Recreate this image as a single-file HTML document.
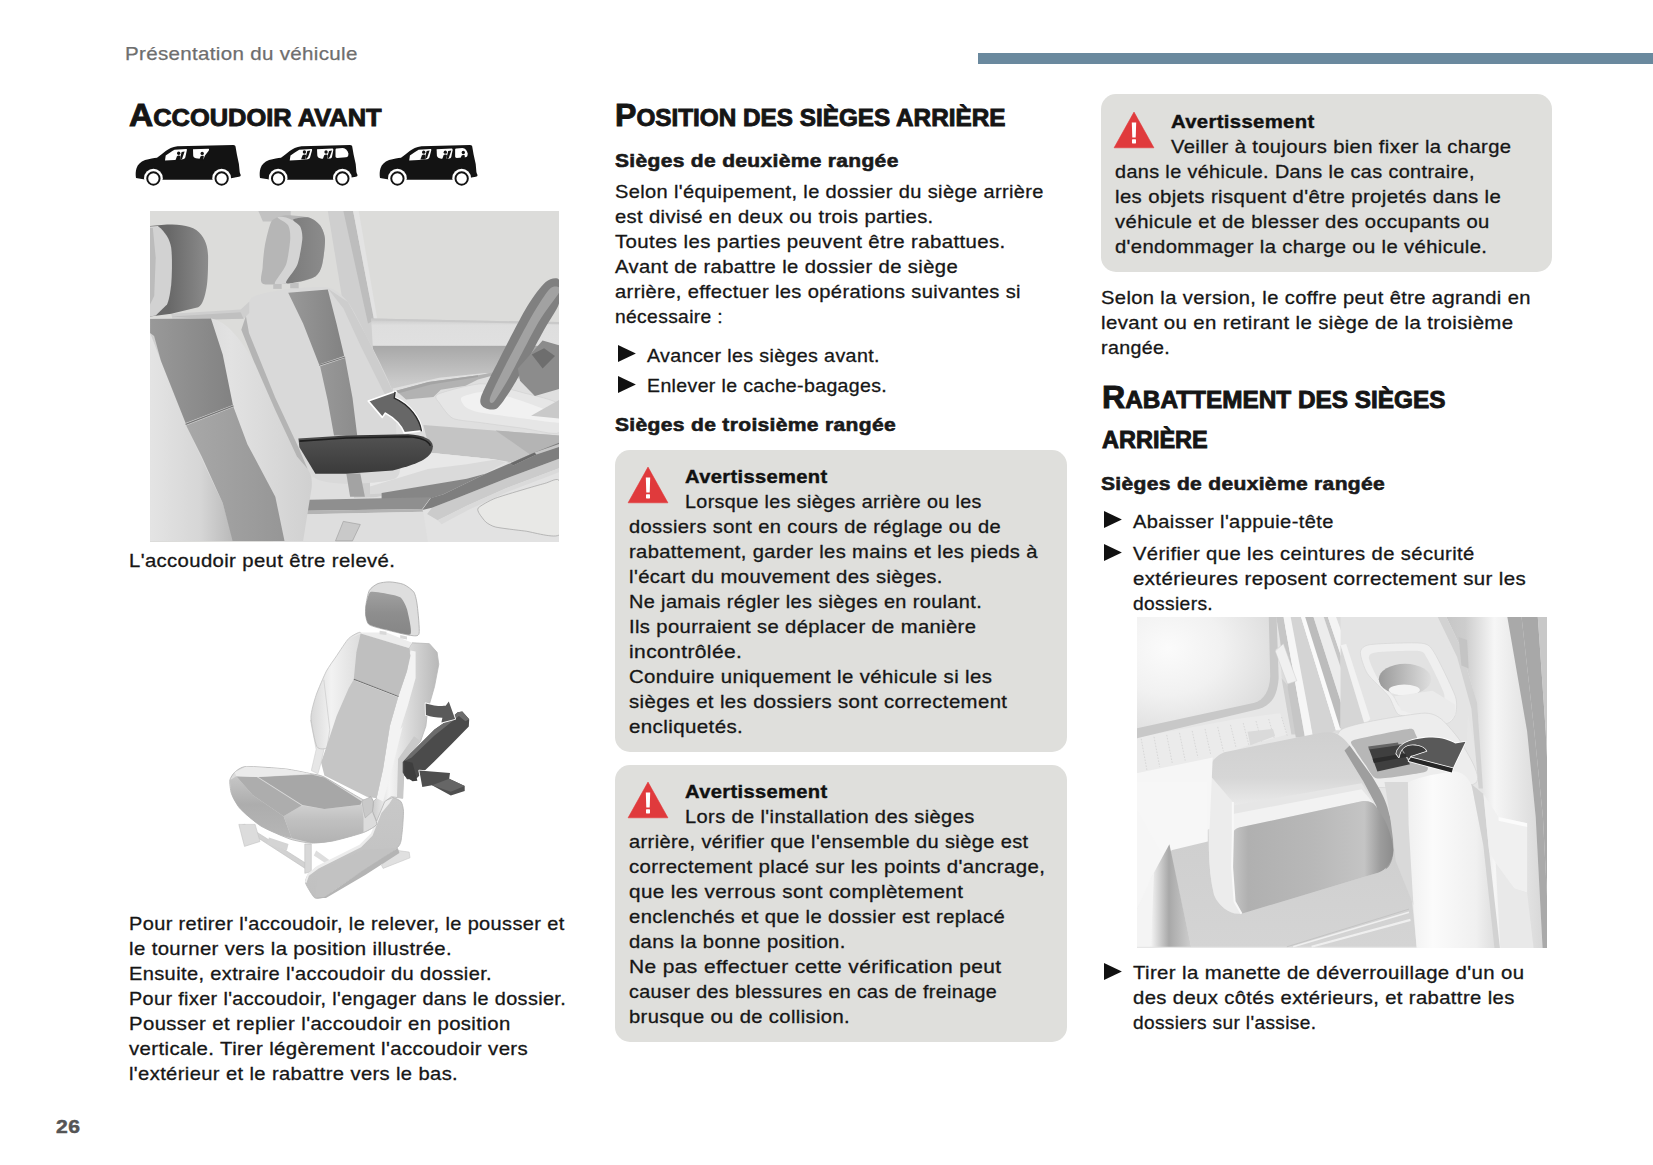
<!DOCTYPE html>
<html lang="fr"><head><meta charset="utf-8"><title>Présentation du véhicule</title>
<style>
html,body{margin:0;padding:0;background:#fff;}
body{width:1653px;height:1165px;position:relative;overflow:hidden;font-family:"Liberation Sans",sans-serif;color:#161616;}
.t{position:absolute;white-space:nowrap;line-height:1;margin:0;transform-origin:0 0;}
.b{font-size:18.5px;letter-spacing:0.35px;-webkit-text-stroke:0.3px #161616;}
.h2{font-size:19px;font-weight:bold;color:#1a1a1a;letter-spacing:0.3px;-webkit-text-stroke:0.6px #1a1a1a;}
.av{font-size:18.5px;font-weight:bold;color:#111;letter-spacing:0.3px;-webkit-text-stroke:0.4px #111;}
.hd{font-size:19px;color:#6e6e6e;letter-spacing:0.3px;-webkit-text-stroke:0.25px #6e6e6e;}
.pn{font-size:19px;font-weight:bold;color:#555;letter-spacing:0.5px;-webkit-text-stroke:0.5px #555;}
.h1{font-weight:bold;font-size:23.5px;color:#151515;-webkit-text-stroke:0.9px #151515;}
.h1 b{font-size:31px;}
.box{position:absolute;background:#dfdfdc;border-radius:15px;}
.bar{position:absolute;left:978px;top:53.3px;width:675px;height:10.9px;background:#6a899e;}
svg{position:absolute;overflow:visible;}
</style></head>
<body>
<div class="bar"></div>
<div class="box" style="left:615.1px;top:450.2px;width:451.5px;height:301.4px"></div>
<div class="box" style="left:615.1px;top:765.1px;width:451.5px;height:277.3px"></div>
<div class="box" style="left:1100.8px;top:94.1px;width:451.6px;height:177.5px"></div>
<svg style="left:628.2px;top:467.6px" width="40" height="35" viewBox="0 0 40 35"><path d="M20 -0.9 L39.9 34.8 L0.1 34.8 Z" fill="#e03a3c" stroke="#e03a3c" stroke-width="0.6" stroke-linejoin="round"/><path d="M17.8 9.6 L22.2 9.6 L21.7 24.4 L18.3 24.4 Z" fill="#fff"/><rect x="18" y="26.2" width="4" height="4.2" rx="0.6" fill="#fff"/></svg>
<svg style="left:628.2px;top:783.2px" width="40" height="35" viewBox="0 0 40 35"><path d="M20 -0.9 L39.9 34.8 L0.1 34.8 Z" fill="#e03a3c" stroke="#e03a3c" stroke-width="0.6" stroke-linejoin="round"/><path d="M17.8 9.6 L22.2 9.6 L21.7 24.4 L18.3 24.4 Z" fill="#fff"/><rect x="18" y="26.2" width="4" height="4.2" rx="0.6" fill="#fff"/></svg>
<svg style="left:1114px;top:112.5px" width="40" height="35" viewBox="0 0 40 35"><path d="M20 -0.9 L39.9 34.8 L0.1 34.8 Z" fill="#e03a3c" stroke="#e03a3c" stroke-width="0.6" stroke-linejoin="round"/><path d="M17.8 9.6 L22.2 9.6 L21.7 24.4 L18.3 24.4 Z" fill="#fff"/><rect x="18" y="26.2" width="4" height="4.2" rx="0.6" fill="#fff"/></svg>
<svg style="left:617.6px;top:345.40px" width="19" height="17" viewBox="0 0 19 17"><path d="M0 0 L17.9 8.5 L0 17 Z" fill="#111"/></svg>
<svg style="left:617.6px;top:376.30px" width="19" height="17" viewBox="0 0 19 17"><path d="M0 0 L17.9 8.5 L0 17 Z" fill="#111"/></svg>
<svg style="left:1104.0px;top:511.40px" width="19" height="17" viewBox="0 0 19 17"><path d="M0 0 L17.9 8.5 L0 17 Z" fill="#111"/></svg>
<svg style="left:1104.0px;top:543.80px" width="19" height="17" viewBox="0 0 19 17"><path d="M0 0 L17.9 8.5 L0 17 Z" fill="#111"/></svg>
<svg style="left:1104.0px;top:963.20px" width="19" height="17" viewBox="0 0 19 17"><path d="M0 0 L17.9 8.5 L0 17 Z" fill="#111"/></svg>
<svg style="left:128px;top:140px" width="370" height="52" viewBox="128 140 370 52">
<path d="M136.0,177.9 C135.5,174.8 135.5,171.2 136.6,167.9 C137.8,164.7 140.3,161.8 145.1,160.0 C149.8,158.7 154.1,158.3 157.0,157.8 C159.9,155.6 162.8,153.1 165.7,150.9 C168.7,148.9 172.3,146.7 177.4,146.2 L233.3,145.1 C234.7,145.2 235.4,145.8 235.6,146.9 L236.9,154.5 L238.9,164.0 L239.7,171.9 C239.9,173.8 240.9,174.1 240.7,175.6 C240.5,176.7 239.4,176.9 231.1,178.3 L212.8,179.8 L162.3,179.8 L144.8,179.6 Z" fill="#131313"/>
<circle cx="153.41" cy="178.19" r="9.36" fill="#fff"/>
<circle cx="153.41" cy="178.48" r="6.17" fill="#fff" stroke="#131313" stroke-width="1.96"/>
<circle cx="221.65" cy="178.19" r="9.36" fill="#fff"/>
<circle cx="221.65" cy="178.48" r="6.17" fill="#fff" stroke="#131313" stroke-width="1.96"/>
<path d="M165.0,160.5 L165.7,155.6 C168.7,153.4 171.6,151.3 174.5,149.8 L186.1,149.1 C186.9,149.1 187.1,149.8 186.8,150.5 L185.4,157.1 C185.0,158.5 184.3,159.0 182.8,159.2 L174.5,160.0 Z" fill="#fff"/>
<path d="M193.0,149.3 L208.6,148.7 C209.2,148.9 209.2,149.8 208.7,150.7 L205.0,155.6 L203.5,159.3 L195.9,158.3 C194.1,157.8 193.3,157.1 193.2,155.6 Z" fill="#fff"/>
<circle cx="178.67" cy="153.21" r="1.67" fill="#131313"/>
<path d="M175.4,160.5 L176.9,156.5 C177.6,155.4 179.8,155.4 180.3,156.1 L179.8,160.5 Z" fill="#131313"/>
<path d="M181.6,152.1 L184.6,151.6 L182.3,158.3 L180.1,160.5 L180.3,157.6 Z" fill="#131313"/>
<circle cx="202.19" cy="153.43" r="1.67" fill="#131313"/>
<path d="M198.9,160.7 L200.4,156.7 C201.1,155.6 203.3,155.6 203.8,156.3 L203.3,160.7 Z" fill="#131313"/>
<path d="M260.0,177.9 C259.5,174.8 259.5,171.2 260.6,167.9 C261.8,164.7 264.3,161.8 269.1,160.0 C273.8,158.7 278.1,158.3 281.0,157.8 C283.9,155.6 286.8,153.1 289.7,150.9 C292.7,148.9 296.3,146.7 301.4,146.2 L350.0,145.1 C351.5,145.2 352.2,145.8 352.3,146.9 L353.6,154.5 L355.7,164.0 L356.4,171.9 C356.7,173.8 357.6,174.1 357.5,175.6 C357.3,176.7 356.2,176.9 347.8,178.3 L333.5,179.8 L287.0,179.8 L269.6,179.6 Z" fill="#131313"/>
<circle cx="278.13" cy="178.19" r="9.36" fill="#fff"/>
<circle cx="278.13" cy="178.48" r="6.17" fill="#fff" stroke="#131313" stroke-width="1.96"/>
<circle cx="342.38" cy="178.19" r="9.36" fill="#fff"/>
<circle cx="342.38" cy="178.48" r="6.17" fill="#fff" stroke="#131313" stroke-width="1.96"/>
<path d="M289.7,160.5 L290.5,155.6 C293.4,153.4 296.3,151.3 299.2,149.8 L311.2,149.1 C312.1,149.1 312.3,149.8 312.0,150.5 L310.2,157.1 C309.9,158.5 309.1,159.0 307.7,159.2 L299.2,160.0 Z" fill="#fff"/>
<path d="M317.0,149.3 L332.4,148.4 C333.3,148.6 333.5,149.4 333.3,150.3 L332.0,156.8 C331.7,157.9 331.1,158.3 330.3,158.4 L321.7,158.7 C319.2,158.5 317.5,157.4 317.3,155.6 Z" fill="#fff"/>
<path d="M335.5,149.8 C335.5,148.9 336.1,148.6 336.9,148.5 L342.7,148.0 C345.6,148.3 347.8,150.9 348.4,153.4 C348.6,155.6 347.7,157.1 346.0,157.3 L337.1,157.9 C336.1,157.9 335.6,157.4 335.5,156.6 Z" fill="#fff"/>
<circle cx="304.41" cy="151.98" r="1.67" fill="#131313"/>
<path d="M301.1,159.2 L302.6,155.2 C303.3,154.2 305.5,154.2 306.0,154.9 L305.5,159.2 Z" fill="#131313"/>
<path d="M307.3,150.9 L310.4,150.4 L308.0,157.1 L305.9,159.2 L306.0,156.3 Z" fill="#131313"/>
<circle cx="326.05" cy="151.98" r="1.67" fill="#131313"/>
<path d="M322.8,159.2 L324.2,155.2 C325.0,154.2 327.1,154.2 327.6,154.9 L327.1,159.2 Z" fill="#131313"/>
<path d="M329.0,150.9 L332.0,150.4 L329.7,157.1 L327.5,159.2 L327.6,156.3 Z" fill="#131313"/>
<path d="M380.0,177.9 C379.5,174.8 379.5,171.2 380.6,167.9 C381.8,164.7 384.3,161.8 389.1,160.0 C393.8,158.7 398.1,158.3 401.0,157.8 C403.9,155.6 406.8,153.1 409.7,150.9 C412.7,148.9 416.3,146.7 421.4,146.2 L470.0,145.1 C471.5,145.2 472.2,145.8 472.3,146.9 L473.6,154.5 L475.7,164.0 L476.4,171.9 C476.7,173.8 477.6,174.1 477.5,175.6 C477.3,176.7 476.2,176.9 467.8,178.3 L452.8,179.8 L406.3,179.8 L388.8,179.6 Z" fill="#131313"/>
<circle cx="397.41" cy="178.19" r="9.36" fill="#fff"/>
<circle cx="397.41" cy="178.48" r="6.17" fill="#fff" stroke="#131313" stroke-width="1.96"/>
<circle cx="461.66" cy="178.19" r="9.36" fill="#fff"/>
<circle cx="461.66" cy="178.48" r="6.17" fill="#fff" stroke="#131313" stroke-width="1.96"/>
<path d="M409.2,160.5 L409.9,155.6 C412.8,153.4 415.7,151.3 418.6,149.8 L430.4,149.1 C431.4,149.1 431.5,149.8 431.2,150.5 L429.5,157.1 C429.1,158.5 428.4,159.0 427.0,159.2 L418.6,160.0 Z" fill="#fff"/>
<path d="M436.6,149.3 L451.7,148.4 C452.6,148.6 452.7,149.4 452.6,150.3 L451.3,156.8 C451.0,157.9 450.4,158.3 449.5,158.4 L441.3,158.7 C438.8,158.5 437.1,157.4 436.9,155.6 Z" fill="#fff"/>
<path d="M455.1,149.8 C455.1,148.9 455.7,148.6 456.6,148.5 L462.4,148.0 C465.3,148.3 467.1,150.9 467.7,153.4 C467.8,155.6 467.0,157.1 465.3,157.3 L456.7,157.9 C455.7,157.9 455.2,157.4 455.1,156.6 Z" fill="#fff"/>
<circle cx="423.69" cy="152.20" r="1.67" fill="#131313"/>
<path d="M420.4,159.5 L421.9,155.5 C422.6,154.4 424.8,154.4 425.3,155.1 L424.8,159.5 Z" fill="#131313"/>
<path d="M426.6,151.1 L429.6,150.6 L427.3,157.3 L425.1,159.5 L425.3,156.6 Z" fill="#131313"/>
<circle cx="445.32" cy="152.20" r="1.67" fill="#131313"/>
<path d="M442.1,159.5 L443.5,155.5 C444.2,154.4 446.4,154.4 446.9,155.1 L446.4,159.5 Z" fill="#131313"/>
<path d="M448.2,151.1 L451.3,150.6 L449.0,157.3 L446.8,159.5 L446.9,156.6 Z" fill="#131313"/>
<circle cx="463.32" cy="152.49" r="1.67" fill="#131313"/>
<path d="M460.1,159.7 L461.5,155.8 C462.2,154.7 464.4,154.7 464.9,155.4 L464.4,159.7 Z" fill="#131313"/>
</svg>
<svg style="left:150px;top:211px;overflow:hidden" width="409" height="330.7" viewBox="150 211 409 330.7">
<defs>
<linearGradient id="g1hd" x1="0" y1="0" x2="1" y2="0"><stop offset="0" stop-color="#7a7a7a"/><stop offset="1" stop-color="#8c8c8c"/></linearGradient>
<linearGradient id="g1hdl" x1="0" y1="0" x2="1" y2="0"><stop offset="0.35" stop-color="#686868"/><stop offset="1" stop-color="#8c8c8c"/></linearGradient>
<linearGradient id="g1pan2" x1="0" y1="0" x2="1" y2="0"><stop offset="0" stop-color="#a8a8a8"/><stop offset="1" stop-color="#969696"/></linearGradient>
<linearGradient id="g1pan3" x1="0" y1="0" x2="1" y2="0"><stop offset="0" stop-color="#989898"/><stop offset="1" stop-color="#8c8c8c"/></linearGradient>
<linearGradient id="g1door" x1="0" y1="0" x2="0" y2="1"><stop offset="0" stop-color="#c8c8c8"/><stop offset="0.07" stop-color="#dedede"/><stop offset="0.275" stop-color="#e0e0e0"/><stop offset="0.285" stop-color="#a8a8a8"/><stop offset="0.65" stop-color="#cacaca"/><stop offset="1" stop-color="#d6d6d6"/></linearGradient>
<linearGradient id="g1arm" x1="0" y1="0" x2="0" y2="1"><stop offset="0" stop-color="#2e2e2e"/><stop offset="0.12" stop-color="#505050"/><stop offset="0.6" stop-color="#444"/><stop offset="1" stop-color="#3a3a3a"/></linearGradient>
<linearGradient id="g1pan" x1="0" y1="0" x2="1" y2="0"><stop offset="0" stop-color="#999999"/><stop offset="1" stop-color="#828282"/></linearGradient>
<linearGradient id="g1bol" x1="0" y1="0" x2="1" y2="0"><stop offset="0" stop-color="#cfcfcf"/><stop offset="0.5" stop-color="#e2e2e2"/><stop offset="1" stop-color="#d0d0d0"/></linearGradient>
<linearGradient id="g1lb" x1="0" y1="0" x2="1" y2="0"><stop offset="0" stop-color="#e4e4e4"/><stop offset="0.6" stop-color="#d6d6d6"/><stop offset="1" stop-color="#b9b9b9"/></linearGradient>
</defs>
<rect x="150" y="211" width="409" height="331" fill="#dcdcda"/>
<polygon points="327.8,210.8 347.9,210.8 377.2,323.6 371.1,397.8 352.5,397.8 346.3,323.6" fill="#cfcfcf" />
<polygon points="343.3,210.8 353.1,210.8 374.2,320.5 368.0,323.6" fill="#bdbdbd" />
<polygon points="353.1,210.8 358.7,210.8 377.2,319.0 374.2,320.5" fill="#e3e3e3" />
<polygon points="258.3,210.8 290.7,210.8 290.7,221.6 262.9,221.6" fill="#c2c2c2" />
<polygon points="371.1,318.4 559.0,322.1 559.0,416.3 377.2,416.3" fill="url(#g1door)"/>
<polygon points="371.1,318.4 559.0,322.1 559.0,324.2 371.7,320.5" fill="#c9c9c9" />
<polygon points="392.7,388.5 439.1,377.7 485.4,373.1 559.0,385.4 559.0,540.9 303.1,540.9 303.1,478.2 392.7,472.0" fill="#dfdfdf" />
<path d="M437.6,394.4 C442.4,392.0 471.4,384.0 481.5,383.8 C491.6,383.6 515.0,390.6 524.0,393.0 C533.0,395.4 554.9,399.7 559.0,404.3 C563.1,408.9 563.1,429.9 559.0,432.7 C554.9,435.5 533.0,429.6 524.0,428.4 C515.0,427.2 489.8,423.9 481.5,422.7 C473.2,421.5 458.0,420.6 453.2,418.5 C448.4,416.4 442.2,407.1 440.4,404.3 C438.6,401.5 432.8,396.8 437.6,394.4Z" fill="#e6e6e6" stroke="#cdcdcd" stroke-width="0.5"/>
<path d="M461.7,397.2 C464.3,395.4 480.5,390.8 488.6,391.6 C496.7,392.4 522.9,401.5 531.1,404.3 C539.3,407.1 555.7,413.6 559.0,415.7 C562.3,417.8 563.1,422.4 559.0,422.7 C554.9,423.0 533.0,419.7 524.0,418.5 C515.0,417.3 488.3,414.1 481.5,412.8 C474.7,411.5 468.2,409.0 465.9,407.2 C463.6,405.4 459.1,399.0 461.7,397.2Z" fill="#f1f1f1" />
<polygon points="531.1,415.7 559.0,400.1 559.0,418.5" fill="#c9c9c9" />
<polygon points="423.4,424.9 559.0,435.5 559.0,446.8 509.8,462.4 430.5,453.2" fill="#c4c4c4" />
<polygon points="495.7,430.5 559.0,435.5 559.0,446.8 531.1,455.3" fill="#b4b4b4" />
<polygon points="396.5,478.0 433.3,453.2 495.7,459.6 508.4,461.7 487.2,473.7 439.0,484.4 388.0,494.3" fill="#e3e3e3" />
<polygon points="433.3,453.2 495.7,459.6 433.3,464.5 402.2,475.2" fill="#eeeeee" />
<polygon points="354.0,475.2 386.6,468.1 395.1,478.0 388.0,494.3 376.7,497.1 354.0,498.1" fill="#cfcfcf" />
<polygon points="396.2,390.8 428.4,382.1 478.0,375.3 494.1,372.2 494.8,374.9 478.0,379.6 465.6,385.8 440.8,389.8 433.4,397.0 406.1,399.5" fill="#b2b2b2" />
<polygon points="396.2,390.8 428.4,382.1 478.0,375.3 478.0,377.1 430.9,384.6 398.6,393.3" fill="#a4a4a4" />
<polygon points="428.0,452.6 495.8,459.4 505.5,462.5 486.1,473.1 466.8,478.9 381.6,493.4 370.0,494.2 370.0,469.0 413.5,459.4" fill="#dadada" />
<polygon points="428.0,452.6 495.8,459.4 466.8,464.2 428.0,469.0 370.0,486.5 370.0,469.0 413.5,459.4" fill="#e8e8e8" />
<polygon points="381.6,493.0 466.8,478.7 486.1,473.4 443.5,494.2 430.9,498.3 381.6,499.6" fill="#868686" />
<polygon points="422.2,509.7 431.9,507.8 457.1,498.1 505.5,478.7 559.7,457.9 559.7,542.6 370.0,542.6 370.0,513.6 423.2,512.1" fill="#e2e2e2" />
<polygon points="431.9,507.8 457.1,498.1 505.5,478.7 559.7,458.4 559.7,468.1 505.5,488.4 466.8,505.8 437.7,520.3 427.1,514.1" fill="#cbcbcb" />
<polygon points="437.7,520.3 466.8,505.8 505.5,488.4 559.7,468.1 559.7,471.9 505.5,492.8 468.7,509.7 441.6,524.2" fill="#dadada" />
<path d="M479.3,513.6 C478.5,512.1 476.8,509.4 478.4,507.8 C480.0,506.2 489.2,500.5 495.8,498.1 C502.4,495.7 537.8,485.2 544.2,483.6 C550.6,482.0 558.2,476.5 559.7,481.6 C561.2,486.7 563.2,529.5 559.7,534.4 C556.2,539.3 531.2,531.7 524.8,531.0 C518.4,530.3 499.7,528.0 495.8,527.1 C491.9,526.2 487.8,523.6 486.1,522.3 C484.5,520.9 480.1,515.1 479.3,513.6Z" fill="#e8e8e6" stroke="#a2a2a2" stroke-width="0.7"/>
<polygon points="559.7,442.4 559.7,458.4 505.5,478.7 457.1,498.1 431.9,507.8 422.2,509.9 430.9,498.1 443.5,494.2 486.1,473.4 510.3,463.2 534.5,452.6" fill="#7e7e7e" />
<polygon points="534.5,452.6 559.7,443.7 559.7,446.8 536.5,454.5 513.2,465.4 510.3,463.2" fill="#c6c6c6" />
<polygon points="510.3,463.2 534.5,452.6 536.5,454.5 513.2,465.4" fill="#6a6a6a" />
<polygon points="273.2,500.5 430.9,497.3 422.2,508.9 273.2,511.2" fill="#8f8f8f" />
<polygon points="273.2,511.2 422.2,508.9 423.2,511.8 273.2,515.0" fill="#b4b4b4" />
<polygon points="273.2,515.0 423.2,511.8 428.0,542.6 273.2,542.6" fill="#dedede" />
<polygon points="335.5,540.9 343.3,521.4 360.3,524.5 352.5,540.9" fill="#c9c9c9" stroke="#9a9a9a" stroke-width="0.6"/>
<path d="M559.0,279.7 C557.2,276.8 550.0,278.3 545.7,281.9 C541.4,285.5 533.3,296.3 527.1,306.6 C520.9,316.9 505.5,347.0 499.3,359.2 C493.1,371.4 482.7,391.3 480.8,397.8 C478.9,404.3 482.5,406.4 484.8,407.7 C487.1,409.0 493.6,411.3 497.8,407.7 C502.0,404.1 510.1,391.2 516.3,380.8 C522.5,370.4 538.4,340.1 544.1,329.8 C549.8,319.5 557.0,310.2 559.0,303.5 C561.0,296.8 560.8,282.6 559.0,279.7Z" fill="#808080" />
<path d="M559.0,287.2 C557.8,286.7 553.3,285.2 549.7,289.0 C546.1,292.8 537.7,305.7 531.8,315.9 C525.9,326.1 511.1,354.4 505.5,365.3 C499.9,376.2 491.6,393.0 490.1,397.8 C488.6,402.6 491.3,404.6 494.1,401.5 C496.9,398.4 504.9,385.2 510.8,374.6 C516.7,364.0 532.2,333.0 538.6,322.1 C545.0,311.2 556.3,297.4 559.0,292.7 C561.7,288.0 560.2,287.7 559.0,287.2Z" fill="#a2a2a2" />
<polygon points="517.9,368.4 542.6,340.6 559.0,345.3 559.0,389.1 534.9,395.9 520.0,380.8" fill="#8c8c8c" />
<polygon points="531.8,354.5 544.1,348.3 555.0,356.1 542.6,368.4" fill="#6e6e6e" />
<path d="M245.9,315.9 C246.3,311.8 247.6,300.5 252.1,297.4 C256.6,294.3 275.7,290.8 284.5,289.6 C293.3,288.4 320.4,286.1 327.8,287.5 C335.2,288.9 343.2,296.0 347.9,302.0 C352.6,308.0 362.8,328.6 368.0,339.1 C373.2,349.6 389.4,380.4 392.7,391.6 C396.0,402.8 396.0,424.8 396.4,434.9 C396.8,445.0 405.2,473.1 395.8,478.2 C386.4,483.3 329.5,487.6 315.4,478.2 C301.3,468.8 283.0,414.8 275.3,397.8 C267.6,380.8 252.4,342.5 249.0,332.9 C245.6,323.3 245.5,320.0 245.9,315.9Z" fill="#d9d9d9" />
<polygon points="288.2,292.7 327.8,289.6 336.5,323.6 344.2,356.1 319.1,364.4 303.1,323.6" fill="url(#g1pan)"/>
<polygon points="320.1,366.3 345.1,357.9 352.5,397.8 357.2,435.5 334.0,435.5 327.8,400.9" fill="url(#g1pan3)"/>
<polygon points="346.3,473.5 360.3,473.5 364.9,496.7 350.1,496.7" fill="#a3a3a3" />
<polygon points="327.8,288.4 347.9,302.0 368.0,339.1 392.7,391.6 386.5,397.8 360.3,345.3 343.3,308.2" fill="#cdcdcd" />
<path d="M273.2,219.5 C275.5,217.8 281.3,215.5 286.0,215.2 C290.7,214.9 304.2,216.1 308.7,217.4 C313.2,218.7 317.8,222.3 320.0,225.2 C322.2,228.1 324.7,234.0 325.0,239.3 C325.3,244.6 323.3,259.9 322.1,264.8 C320.9,269.7 318.8,273.9 315.7,276.2 C312.6,278.5 305.7,280.8 298.7,281.8 C291.7,282.8 268.1,285.9 263.3,284.0 C258.5,282.1 262.4,272.7 262.6,267.7 C262.8,262.7 263.8,251.7 264.7,246.4 C265.6,241.1 267.9,231.6 269.0,228.0 C270.1,224.4 270.9,221.2 273.2,219.5Z" fill="#b6b6b6" />
<path d="M286.0,217.4 C289.1,218.4 298.6,222.3 300.9,225.2 C303.2,228.1 303.7,234.0 303.3,239.3 C302.9,244.6 300.0,259.1 298.0,264.8 C296.0,270.5 291.2,279.3 288.1,281.8 C285.0,284.3 275.0,285.8 274.7,283.5 C274.4,281.2 283.9,270.7 286.0,264.8 C288.1,258.9 289.9,244.6 290.2,239.3 C290.5,234.0 289.8,228.1 288.1,225.2 C286.4,222.3 277.8,218.4 277.5,217.4 C277.2,216.4 282.9,216.4 286.0,217.4Z" fill="#d4d4d4" />
<path d="M293.1,219.5 C294.2,218.3 305.1,216.6 308.7,217.4 C312.3,218.2 317.8,222.3 320.0,225.2 C322.2,228.1 324.7,234.0 325.0,239.3 C325.3,244.6 323.3,259.9 322.1,264.8 C320.9,269.7 318.8,273.9 315.7,276.2 C312.6,278.5 302.7,281.0 298.7,281.8 C294.7,282.6 286.2,284.8 286.0,282.5 C285.8,280.2 295.1,270.6 297.3,264.8 C299.5,259.0 301.9,244.4 302.3,239.3 C302.7,234.2 301.4,229.2 300.2,226.6 C299.0,224.0 292.0,220.7 293.1,219.5Z" fill="url(#g1hd)" />
<polygon points="273.2,284.0 281.7,284.0 281.7,288.9 273.2,288.9" fill="#c0c0c0" />
<polygon points="290.2,283.2 298.7,282.5 298.7,288.2 290.2,288.2" fill="#c0c0c0" />
<polygon points="171.2,313.7 240.7,309.5 249.2,301.7 249.2,313.0 243.5,318.7 209.5,319.4 172.7,320.1" fill="#cecece" />
<polygon points="171.2,316.5 240.7,312.3 243.5,318.7 209.5,319.4" fill="#c0c0c0" />
<path d="M147.2,226.3 L167.0,224.5 C181.2,224.5 192.5,225.9 198.9,232.2 C206.0,239.3 208.1,247.8 208.1,257.7 C208.1,274.7 207.4,284.7 206.0,290.3 C203.8,301.7 201.0,305.9 198.2,307.3 L171.2,313.7 L147.2,317.0 Z" fill="url(#g1hdl)"/>
<path d="M147.2,226.6 L157.8,226.0 C165.6,232.2 169.8,239.3 171.2,247.8 C172.4,257.7 172.0,274.7 171.2,284.7 C169.8,296.0 168.4,301.7 167.0,304.5 L155.7,315.5 L147.2,317.0 Z" fill="#d2d2d2"/>
<polygon points="147.2,228.0 152.8,228.0 155.7,257.7 154.2,296.0 147.2,310.2" fill="#bcbcbc" />
<path d="M211.0,318.4 C222.7,320.5 235.1,329.8 253.6,360.7 L275.3,410.2 L296.9,456.5 C307.7,468.9 313.0,472.0 311.7,487.4 L303.1,540.9 L232.0,540.9 L185.6,424.1 L150.1,336.0 L150.1,318.4 Z" fill="url(#g1bol)"/>
<polygon points="150.1,332.9 160.9,360.7 185.6,425.6 222.7,502.9 233.5,540.9 150.1,540.9" fill="url(#g1lb)"/>
<polygon points="150.1,319.0 211.0,318.4 222.7,354.5 232.9,404.9 185.6,423.1 160.9,360.7 154.1,336.0 150.1,332.9" fill="url(#g1pan)"/>
<path d="M186.2,425.6 L233.5,407.1 L247.4,444.2 L275.3,496.7 L284.5,540.9 L232.6,540.9 L222.7,502.9 L201.7,456.5 Z" fill="url(#g1pan2)"/>
<path d="M185.6,424.4 L233.5,405.8" stroke="#777" stroke-width="1.3" fill="none"/>
<path d="M319.1,365.3 L345.1,357.0" stroke="#777" stroke-width="1.2" fill="none"/>
<polygon points="253.6,360.7 275.3,410.2 296.9,456.5 307.7,468.9 298.4,447.2 275.3,397.8 249.0,332.9 245.9,315.9 241.3,329.8" fill="#b4b4b4" />
<path d="M298.4,438.6 L346.3,435.5 L408.2,434.3 C423.6,434.9 432.3,439.5 432.9,446.3 C432.3,456.5 423.6,462.7 392.7,470.4 L346.3,473.8 L315.4,473.8 L306.8,459.6 L299.4,447.2 Z" fill="url(#g1arm)"/>
<path d="M299.4,441.1 L346.3,438.0 L408.2,436.7 C420.5,437.4 428.2,440.4 430.4,445.7" fill="none" stroke="#1e1e1e" stroke-width="1.6"/>
<path d="M404.3,432.9 L422.3,430.7 C420.6,418.5 410.7,404.3 395.1,397.5 L395.9,391.3 L368.2,400.9 L382.3,417.4 L385.4,413.1 C395.1,418.5 401.5,425.6 404.3,432.9 Z" fill="#676767" stroke="#fff" stroke-width="1.6" stroke-linejoin="round"/>
<path d="M422.3,430.7 C420.6,418.5 410.7,404.3 395.1,397.5 L395.9,391.3" fill="none" stroke="#2b2b2b" stroke-width="1.4" transform="translate(-0.8,0.6)"/>
</svg>
<svg style="left:220px;top:575px;overflow:hidden" width="265" height="335" viewBox="220 575 265 335">
<defs>
<linearGradient id="g2hr" x1="0" y1="0" x2="0" y2="1"><stop offset="0" stop-color="#a0a0a0"/><stop offset="0.5" stop-color="#8e8e8e"/><stop offset="1" stop-color="#868686"/></linearGradient>
<linearGradient id="g2side" x1="0" y1="0" x2="1" y2="0"><stop offset="0" stop-color="#cccccc"/><stop offset="0.25" stop-color="#f4f4f4"/><stop offset="0.55" stop-color="#dadada"/><stop offset="1" stop-color="#b8b8b8"/></linearGradient>
<linearGradient id="g2front" x1="0" y1="0" x2="0" y2="1"><stop offset="0" stop-color="#c6c6c6"/><stop offset="0.45" stop-color="#adadad"/><stop offset="1" stop-color="#b6b6b6"/></linearGradient>
<linearGradient id="g2fr2" x1="0" y1="0" x2="0" y2="1"><stop offset="0" stop-color="#d0d0d0"/><stop offset="0.4" stop-color="#c0c0c0"/><stop offset="1" stop-color="#b2b2b2"/></linearGradient>
<linearGradient id="g2base" x1="0" y1="0" x2="0" y2="1"><stop offset="0" stop-color="#c8c8c8"/><stop offset="1" stop-color="#c0c0c0"/></linearGradient>
<linearGradient id="g2bol" x1="0" y1="0" x2="1" y2="0"><stop offset="0" stop-color="#d8d8d8"/><stop offset="0.4" stop-color="#f2f2f2"/><stop offset="1" stop-color="#dcdcdc"/></linearGradient>
</defs>
<polygon points="239.6,826.0 244.5,824.4 308.9,865.2 306.4,869.2" fill="#d2d2d2" stroke="#bdbdbd" stroke-width="0.6"/>
<polygon points="238.8,824.4 255.1,824.4 260.0,841.5 244.5,846.4" fill="#dcdcdc" stroke="#c4c4c4" stroke-width="0.6"/>
<polygon points="268.9,837.4 288.5,844.0 286.9,850.5 267.3,844.0" fill="#d4d4d4" />
<polygon points="304.8,844.0 311.3,844.0 311.3,871.7 304.8,873.3" fill="#d8d8d8" stroke="#c0c0c0" stroke-width="0.6"/>
<polygon points="316.2,850.5 334.2,863.5 330.9,866.8 313.8,855.4" fill="#dedede" />
<polygon points="397.8,850.5 409.2,852.1 410.0,857.8 383.1,868.4 381.5,865.2" fill="#e0e0e0" stroke="#c8c8c8" stroke-width="0.6"/>
<path d="M384.7,801.6 C385.8,800.2 391.3,797.5 392.9,797.5 C394.5,797.5 399.9,800.2 401.0,801.6 C402.1,803.0 403.4,808.0 403.5,811.3 C403.6,814.6 402.5,830.6 401.9,834.2 C401.3,837.8 401.6,843.6 397.8,847.2 C394.0,850.8 369.9,865.9 363.5,870.1 C357.1,874.3 338.1,886.9 334.2,889.6 C330.3,892.3 326.4,896.2 324.4,897.0 C322.4,897.8 316.5,899.2 314.6,897.8 C312.7,896.4 306.2,885.4 305.6,883.1 C305.0,880.8 306.9,876.6 308.1,875.0 C309.3,873.4 312.7,869.7 317.9,866.8 C323.1,863.9 354.9,848.9 360.3,845.6 C365.7,842.3 369.6,837.6 371.7,834.2 C373.8,830.8 380.2,814.6 381.5,811.3 C382.8,808.0 383.6,803.0 384.7,801.6Z" fill="url(#g2base)" stroke="#b4b4b4" stroke-width="0.8"/>
<polygon points="317.9,870.9 363.5,849.7 397.8,848.0 363.5,870.1 324.4,897.0 315.4,897.5" fill="#c2c2c2" />
<polygon points="324.4,897.0 363.5,870.1 397.8,848.0 399.4,852.9 365.2,875.0 326.0,898.1 315.4,898.1" fill="#b4b4b4" />
<path d="M384.7,801.6 L392.9,798.0 L389.6,803.2 L381.5,813.0 L372.5,835.8 L361.1,847.2 L318.7,868.4 L308.9,875.8 L306.4,883.1 L304.8,882.3 L307.3,874.1 L317.0,866.0 L359.5,844.8 L370.9,833.4 L380.7,810.5 Z" fill="#ececec"/>
<polygon points="310.5,720.0 324.4,720.0 327.6,733.0 321.1,762.4 317.9,773.8 311.3,770.6 316.2,749.4" fill="#e6e6e6" stroke="#cfcfcf" stroke-width="0.6"/>
<path d="M336.7,655.7 C338.9,652.4 346.3,640.8 348.7,638.5 C351.1,636.2 359.5,631.1 360.7,632.5 C361.9,633.9 361.2,647.7 360.7,652.3 C360.2,656.9 357.7,672.5 355.5,678.9 C353.3,685.2 341.1,709.0 338.4,715.8 C335.7,722.6 330.2,743.6 328.1,746.7 C326.0,749.8 318.6,749.6 316.9,746.7 C315.2,743.8 311.0,722.6 310.9,717.5 C310.8,712.4 314.6,699.8 316.1,695.2 C317.7,690.6 324.3,675.1 326.4,671.1 C328.5,667.1 334.5,659.0 336.7,655.7Z" fill="url(#g2bol)" stroke="#c0c0c0" stroke-width="0.8"/>
<path d="M323.8,679.7 L329.8,729.5 L327.2,746.7" stroke="#cfcfcf" stroke-width="0.8" fill="none"/>
<polygon points="408.8,648.0 412.2,642.8 429.4,643.7 437.1,652.3 438.8,664.3 434.5,686.6 427.6,710.6 425.9,726.1 420.6,741.2 404.3,760.8 402.7,798.3 391.3,796.7 384.7,801.6 376.6,821.1 372.5,811.3 373.3,801.6 376.6,798.3 383.1,768.9 389.9,726.1 398.5,696.0 407.0,671.1 410.5,655.7" fill="url(#g2side)" stroke="#b8b8b8" stroke-width="0.8"/>
<polygon points="410.5,650.5 415.6,651.4 415.6,678.0 407.9,705.5 400.2,729.5 402.7,726.5 391.3,772.2 383.1,801.6 376.6,798.3 383.1,768.9 389.9,726.1 398.5,696.0 407.0,671.1" fill="#f3f3f3"/>
<polygon points="420.6,741.2 404.3,760.8 402.7,798.3 397.0,797.5 398.1,759.1 414.1,736.3" fill="#c9c9c9" />
<polygon points="348.7,638.5 360.7,632.5 386.4,632.5 412.2,642.8 408.8,648.0 360.7,633.7" fill="#ececec" />
<polygon points="360.7,633.4 408.8,648.0 410.5,655.7 407.0,671.1 398.5,696.0 353.8,678.9 356.4,652.3" fill="#bfbfbf" />
<polygon points="353.5,680.1 398.1,697.2 389.9,726.1 383.1,768.9 376.6,798.3 366.8,796.7 324.4,775.5 321.1,762.4 326.4,746.7 336.7,715.8 348.7,688.3" fill="#c5c5c5"/>
<path d="M353.8,679.2 L398.5,696.5" stroke="#707070" stroke-width="1.1" fill="none"/>
<path d="M365.8,605.9 C366.2,602.9 367.9,593.1 369.3,590.5 C370.7,587.9 375.5,584.6 377.9,583.6 C380.3,582.6 386.9,581.8 389.9,581.9 C392.9,582.0 400.8,583.2 403.6,584.4 C406.4,585.6 412.3,589.7 413.9,592.2 C415.5,594.7 416.7,601.1 417.3,605.9 C417.9,610.7 419.9,630.0 419.1,633.4 C418.3,636.8 414.3,635.8 410.5,635.4 C406.7,635.0 391.2,631.1 386.4,629.9 C381.6,628.7 371.7,626.4 369.3,624.8 C366.9,623.2 366.2,618.4 365.8,616.2 C365.4,614.0 365.4,608.9 365.8,605.9Z" fill="#dedede" stroke="#a8a8a8" stroke-width="0.8"/>
<path d="M365.8,605.9 C366.2,603.5 368.4,593.5 370.1,592.2 C371.8,590.9 380.0,592.5 383.0,593.0 C386.0,593.5 397.8,595.7 400.2,597.3 C402.6,598.9 406.0,605.6 407.0,609.3 C408.0,613.0 412.6,632.2 410.5,634.2 C408.4,636.2 390.5,630.6 386.4,629.6 C382.3,628.6 371.4,625.7 369.3,624.4 C367.2,623.1 366.2,618.1 365.8,616.2 C365.4,614.4 365.4,608.3 365.8,605.9Z" fill="url(#g2hr)" />
<polygon points="379.6,630.8 386.4,631.7 386.4,635.1 379.6,634.2" fill="#d8d8d8" />
<polygon points="400.2,635.1 407.0,636.5 407.0,639.4 400.2,638.2" fill="#d8d8d8" />
<path d="M229.8,780.3 C230.1,778.2 233.1,773.6 234.7,772.2 C236.3,770.8 241.0,766.8 246.1,766.5 C251.2,766.2 278.7,768.2 285.2,768.9 C291.7,769.6 307.4,773.0 311.3,773.8 C315.2,774.6 319.2,774.5 324.4,777.1 C329.6,779.7 358.9,797.9 363.5,799.9 C368.1,801.9 369.1,796.5 370.1,796.7 C371.1,796.9 373.1,800.1 373.3,801.6 C373.5,803.1 372.2,809.0 372.5,811.3 C372.8,813.6 377.5,822.3 376.6,824.4 C375.7,826.5 367.7,830.9 363.5,832.5 C359.3,834.1 339.4,839.6 334.2,840.7 C329.0,841.8 315.7,843.3 311.3,843.1 C306.9,842.9 295.2,840.8 290.1,839.1 C285.1,837.4 265.9,829.1 260.8,826.0 C255.8,822.9 242.5,811.4 239.6,808.1 C236.7,804.8 232.4,796.2 231.4,793.4 C230.4,790.6 229.5,782.4 229.8,780.3Z" fill="#dcdcdc" stroke="#aeaeae" stroke-width="0.8"/>
<path d="M229.8,780.3 L236.3,776.3 L252.6,795.0 L283.6,816.2 L291.8,838.3 C282.0,836.6 268.9,830.9 260.8,826.0 C251.0,819.5 244.5,813.8 239.6,808.1 C234.7,801.6 232.2,796.7 231.4,793.4 Z" fill="url(#g2front)"/>
<path d="M283.6,816.2 L301.6,805.6 L324.4,808.9 L361.9,804.8 L363.5,817.9 L363.5,832.5 C350.5,836.6 342.3,839.1 334.2,840.7 C324.4,842.7 317.9,843.1 311.3,843.1 L291.8,838.3 Z" fill="url(#g2fr2)"/>
<polygon points="236.3,776.3 256.7,777.1 301.6,805.6 283.6,816.2 252.6,795.0" fill="#adadad" />
<polygon points="258.3,777.1 311.3,774.6 324.4,777.4 361.9,801.6 360.3,804.8 324.4,808.9 302.4,805.1" fill="#a7a7a7" />
<polygon points="234.7,772.2 246.1,766.5 285.2,768.9 311.3,773.8 257.5,777.1 236.3,776.3" fill="#ebebeb" />
<polygon points="361.9,800.7 370.9,796.7 373.3,801.6 372.5,811.3 365.2,817.9 363.5,811.3" fill="#c9c9c9" stroke="#a8a8a8" stroke-width="0.5"/>
<path d="M457.7,712.3 L462.3,711.5 L469.2,719.2 L468.8,726.4 L451.7,744.1 L434.5,761.3 L415.6,779.3 L407.0,779.3 L402.7,772.4 L402.7,762.1 L410.5,753.5 L434.5,729.5 L451.7,717.5 Z" fill="#4b4b4b"/>
<path d="M457.7,712.3 L462.3,711.5 L469.2,719.2 L465.4,721.3 L458.9,716.1 L434.5,735.5 L411.3,757.8 L403.9,761.3 L410.5,753.5 L434.5,729.5 L451.7,717.5 Z" fill="#6c6c6c"/>
<path d="M404.3,760.8 L412.5,762.7 L417.4,780.7 L412.5,781.3 L404.3,775.5 Z" fill="#3e3e3e"/>
<path d="M425.6,703.4 C432.8,705.5 439.7,706.3 445.7,705.8 L448.8,701.4 L455.1,718.9 L441.4,722.6 L442.4,717.8 C436.2,717.5 431.1,716.6 425.9,714.9 Z" fill="#5a5a5a" stroke="#fff" stroke-width="1.8" stroke-linejoin="round" paint-order="stroke"/>
<path d="M419.3,770.6 L450.0,773.0 L449.2,778.7 L464.7,786.1 L464.7,791.0 L450.8,795.4 L432.0,785.2 L422.3,786.9 Z" fill="#4f4f4f" stroke="#fff" stroke-width="1.8" stroke-linejoin="round" paint-order="stroke"/>
<path d="M432.0,785.2 L449.2,778.7 L464.7,786.1 L450.8,791.8 Z" fill="#666"/>
</svg>
<svg style="left:1137px;top:617px;overflow:hidden" width="410" height="330.5" viewBox="1137 617 410 330.5">
<defs>
<radialGradient id="g3cush" cx="0.25" cy="0.3" r="0.9"><stop offset="0" stop-color="#fbfbfb"/><stop offset="0.45" stop-color="#f1f1f1"/><stop offset="1" stop-color="#d9d9d9"/></radialGradient>
<linearGradient id="g3hr" x1="0" y1="0" x2="1" y2="0"><stop offset="0" stop-color="#c6c6c6"/><stop offset="0.1" stop-color="#b0b0b0"/><stop offset="0.5" stop-color="#b8b8b8"/><stop offset="0.82" stop-color="#c4c4c4"/><stop offset="0.92" stop-color="#9c9c9c"/><stop offset="1" stop-color="#8c8c8c"/></linearGradient>
<linearGradient id="g3hrtop" x1="0" y1="0" x2="0" y2="1"><stop offset="0" stop-color="#d0d0d0"/><stop offset="0.25" stop-color="#d6d6d6"/><stop offset="0.42" stop-color="#ececec"/><stop offset="1" stop-color="#d8d8d8"/></linearGradient>
<linearGradient id="g3bol" x1="0" y1="0" x2="1" y2="0"><stop offset="0" stop-color="#ececec"/><stop offset="0.35" stop-color="#fbfbfb"/><stop offset="0.8" stop-color="#f0f0f0"/><stop offset="1" stop-color="#dedede"/></linearGradient>
<linearGradient id="g3door" x1="0" y1="0" x2="1" y2="0"><stop offset="0" stop-color="#e9e9e9"/><stop offset="0.35" stop-color="#f3f3f3"/><stop offset="0.55" stop-color="#cfcfcf"/><stop offset="0.66" stop-color="#e9e9e9"/><stop offset="0.85" stop-color="#d6d6d6"/><stop offset="1" stop-color="#e4e4e4"/></linearGradient>
<linearGradient id="g3sh" x1="0" y1="0" x2="1" y2="0"><stop offset="0" stop-color="#f4f4f4"/><stop offset="0.45" stop-color="#a8a8a8"/><stop offset="1" stop-color="#cecece"/></linearGradient>
<linearGradient id="g3cup" x1="0" y1="0" x2="1" y2="0"><stop offset="0" stop-color="#9a9a9a"/><stop offset="0.5" stop-color="#bcbcbc"/><stop offset="1" stop-color="#dedede"/></linearGradient>
<linearGradient id="g3back" x1="0" y1="0" x2="0" y2="1"><stop offset="0" stop-color="#cecece"/><stop offset="1" stop-color="#d4d4d4"/></linearGradient>
<linearGradient id="g3pil" x1="0" y1="0" x2="1" y2="0"><stop offset="0" stop-color="#c6c6c6"/><stop offset="0.2" stop-color="#cdcdcd"/><stop offset="0.5" stop-color="#f6f6f6"/><stop offset="1" stop-color="#d8d8d8"/></linearGradient>
</defs>
<rect x="1137" y="617" width="410" height="331" fill="#e6e6e6"/>
<polygon points="1137.0,737.4 1236.2,719.0 1280.1,713.3 1287.2,734.6 1250.3,744.5 1210.7,760.1 1137.0,772.8" fill="#ebebeb" />
<path d="M1141.2,738.8 L1146.9,770.0" stroke="#cfcfcf" stroke-width="0.7" stroke-dasharray="1.6 1.4" fill="none"/>
<path d="M1154.0,736.8 L1159.7,766.9" stroke="#cfcfcf" stroke-width="0.7" stroke-dasharray="1.6 1.4" fill="none"/>
<path d="M1166.7,734.9 L1172.4,763.8" stroke="#cfcfcf" stroke-width="0.7" stroke-dasharray="1.6 1.4" fill="none"/>
<path d="M1179.5,732.9 L1185.2,760.6" stroke="#cfcfcf" stroke-width="0.7" stroke-dasharray="1.6 1.4" fill="none"/>
<path d="M1192.2,730.9 L1197.9,757.5" stroke="#cfcfcf" stroke-width="0.7" stroke-dasharray="1.6 1.4" fill="none"/>
<path d="M1205.0,728.9 L1210.7,754.4" stroke="#cfcfcf" stroke-width="0.7" stroke-dasharray="1.6 1.4" fill="none"/>
<path d="M1217.7,726.9 L1223.4,751.3" stroke="#cfcfcf" stroke-width="0.7" stroke-dasharray="1.6 1.4" fill="none"/>
<path d="M1230.5,724.9 L1236.2,748.2" stroke="#cfcfcf" stroke-width="0.7" stroke-dasharray="1.6 1.4" fill="none"/>
<path d="M1243.2,723.0 L1248.9,745.1" stroke="#cfcfcf" stroke-width="0.7" stroke-dasharray="1.6 1.4" fill="none"/>
<path d="M1256.0,721.0 L1261.7,741.9" stroke="#cfcfcf" stroke-width="0.7" stroke-dasharray="1.6 1.4" fill="none"/>
<path d="M1268.7,719.0 L1274.4,738.8" stroke="#cfcfcf" stroke-width="0.7" stroke-dasharray="1.6 1.4" fill="none"/>
<path d="M1281.5,717.0 L1287.2,735.7" stroke="#cfcfcf" stroke-width="0.7" stroke-dasharray="1.6 1.4" fill="none"/>
<polygon points="1247.5,731.7 1273.0,728.9 1275.1,736.0 1250.3,745.2" fill="#dadada" />
<path d="M1134.2,614.2 L1276.5,614.2 L1278.7,677.9 C1277.2,696.3 1271.6,704.8 1258.8,709.1 L1134.2,738.8 Z" fill="#c8c8c8"/>
<path d="M1134.2,614.2 L1268.7,614.2 L1270.2,676.5 C1269.5,690.7 1264.5,699.2 1254.6,702.7 L1134.2,728.9 Z" fill="url(#g3cush)"/>
<polygon points="1278.7,615.6 1342.0,615.6 1342.0,733.2 1304.2,734.6 1281.5,676.5" fill="#dcdcdc" />
<polygon points="1284.3,617.0 1292.8,617.0 1325.4,730.3 1315.5,732.5 1287.2,685.0" fill="#f4f4f4" />
<polygon points="1275.8,649.6 1284.3,643.9 1296.4,679.3 1287.9,683.6" fill="#f0f0f0" stroke="#d2d2d2" stroke-width="0.5"/>
<polygon points="1299.9,617.0 1307.0,617.0 1342.0,716.2 1342.0,730.3 1335.3,730.3" fill="#f6f6f6" />
<polygon points="1321.2,617.0 1328.2,617.0 1342.0,653.8 1342.0,676.5" fill="#f2f2f2" />
<polygon points="1281.5,677.9 1287.2,685.0 1304.2,734.6 1291.4,734.6" fill="#cfcfcf" />
<polygon points="1276.2,616.5 1283.4,616.5 1305.0,737.5 1295.8,737.5" fill="#c6c6c6" />
<polygon points="1283.4,616.5 1290.6,616.5 1313.3,737.5 1305.0,737.5" fill="#f6f6f6" />
<polygon points="1290.6,616.5 1300.9,616.5 1335.9,730.3 1323.6,737.5 1313.3,737.5" fill="#d4d4d4" />
<polygon points="1300.9,616.5 1305.0,616.5 1340.1,728.3 1335.9,730.3" fill="#fafafa" />
<polygon points="1305.0,616.5 1313.3,616.5 1348.3,725.2 1340.1,728.3" fill="#bcbcbc" />
<polygon points="1313.3,616.5 1323.6,616.5 1358.6,721.1 1348.3,725.2" fill="#ececec" />
<polygon points="1323.6,616.5 1327.7,616.5 1362.7,720.0 1358.6,721.1" fill="#c6c6c6" />
<polygon points="1327.7,616.5 1335.9,616.5 1373.0,718.0 1362.7,720.0" fill="#f4f4f4" />
<polygon points="1275.2,651.0 1283.4,643.8 1296.8,680.9 1287.5,684.0" fill="#f0f0f0" stroke="#cfcfcf" stroke-width="0.5"/>
<polygon points="1340.6,615.6 1441.2,615.6 1469.5,673.7 1466.7,744.5 1340.6,727.5" fill="#e4e4e4" />
<polygon points="1340.6,645.3 1359.0,696.3 1367.5,724.7 1340.6,730.3" fill="#d6d6d6" />
<polygon points="1340.6,645.3 1346.2,643.9 1370.3,719.0 1364.7,724.7" fill="#f2f2f2" />
<polygon points="1428.6,615.6 1551.4,615.6 1551.4,954.1 1494.3,954.1 1482.9,845.6 1477.1,759.9 1457.1,659.9" fill="#e4e4e4" />
<polygon points="1445.7,615.6 1510.0,615.6 1527.1,731.3 1535.7,817.0 1542.9,954.1 1498.6,954.1 1485.7,845.6 1482.9,788.4 1477.1,702.7 1460.0,645.6" fill="url(#g3pil)"/>
<polygon points="1507.1,615.6 1521.4,615.6 1534.3,731.3 1542.9,817.0 1550.0,954.1 1542.9,954.1 1535.7,817.0 1527.1,731.3" fill="#a9a9a9" />
<polygon points="1521.4,615.6 1537.7,615.6 1545.7,731.3 1551.4,845.6 1551.4,954.1 1550.0,954.1 1542.9,817.0 1534.3,731.3" fill="#a8a8a8" />
<polygon points="1537.7,615.6 1551.4,615.6 1551.4,845.6 1545.7,731.3" fill="#c8c8c8" />
<polygon points="1437.1,615.6 1445.7,615.6 1460.0,645.6 1477.1,702.7 1482.9,788.4 1478.6,788.4 1471.4,708.4 1457.1,657.0" fill="#d2d2d2" />
<polygon points="1458.6,637.0 1467.1,639.9 1468.6,668.4 1461.4,665.6" fill="#c4c4c4" />
<path d="M1360.4,652.4 C1360.7,649.0 1363.2,645.7 1370.3,644.6 C1377.4,643.5 1413.9,642.3 1421.3,643.2 C1428.7,644.1 1430.1,646.2 1434.1,652.4 C1438.1,658.6 1452.8,689.0 1455.3,696.3 C1457.8,703.6 1456.3,711.6 1455.3,714.7 C1454.3,717.8 1450.8,723.0 1446.8,723.2 C1442.8,723.4 1426.9,717.2 1421.3,716.2 C1415.7,715.2 1402.5,717.0 1398.7,714.7 C1394.9,712.4 1392.3,701.1 1388.7,696.3 C1385.1,691.5 1370.8,678.8 1367.5,673.7 C1364.2,668.6 1360.1,655.8 1360.4,652.4Z" fill="#efefef" stroke="#d4d4d4" stroke-width="0.6"/>
<path d="M1368.9,658.1 C1368.7,655.1 1370.2,653.2 1376.0,652.4 C1381.8,651.6 1412.5,650.3 1418.5,651.0 C1424.5,651.7 1424.0,653.1 1427.0,658.1 C1430.0,663.1 1442.3,687.7 1444.0,693.5 C1445.7,699.3 1442.5,705.6 1441.2,707.7 C1439.9,709.8 1437.3,711.9 1432.7,711.9 C1428.1,711.9 1406.1,709.5 1401.5,707.7 C1396.9,705.9 1395.8,699.8 1393.0,696.3 C1390.2,692.8 1380.2,682.4 1377.4,677.9 C1374.6,673.4 1369.1,661.1 1368.9,658.1Z" fill="#e2e2e2" />
<ellipse cx="1405.0" cy="679.3" rx="26.2" ry="15.6" fill="url(#g3cup)"/>
<ellipse cx="1404.3" cy="690.0" rx="15.6" ry="5.4" fill="#f3f3f3"/>
<polygon points="1394.4,696.3 1432.7,690.7 1455.3,704.8 1455.3,714.7 1446.8,723.2 1421.3,716.2 1401.5,710.5" fill="#ebebeb" />
<path d="M1340.6,730.3 C1348.7,723.2 1411.2,714.4 1421.3,713.3 C1431.4,712.2 1437.1,715.9 1441.2,719.0 C1445.3,722.1 1459.2,738.0 1462.4,744.5 C1465.7,751.0 1485.9,780.2 1473.7,784.2 C1461.5,788.2 1353.9,789.6 1340.6,784.2 C1327.3,778.8 1332.5,737.4 1340.6,730.3Z" fill="#ededed" stroke="#d0d0d0" stroke-width="0.6"/>
<path d="M1353.3,740.2 C1358.7,738.2 1402.4,729.5 1408.6,728.9 C1414.8,728.3 1413.8,730.8 1415.7,734.6 C1417.6,738.4 1427.1,763.4 1427.7,767.2 C1428.3,771.0 1426.3,771.7 1421.3,772.8 C1416.3,773.9 1382.9,779.2 1377.4,778.5 C1371.9,777.8 1368.4,768.7 1366.1,765.7 C1363.8,762.7 1356.0,751.2 1354.7,748.7 C1353.4,746.2 1347.9,742.2 1353.3,740.2Z" fill="#b7b7b7" />
<polygon points="1368.9,748.7 1398.7,744.5 1410.0,764.3 1377.4,771.4" fill="#3f3f3f" />
<polygon points="1368.2,746.6 1398.0,742.4 1398.7,745.2 1368.9,749.5" fill="#666" />
<polygon points="1372.5,758.7 1407.2,753.0 1408.6,756.5 1373.9,762.9" fill="#2c2c2c" />
<polygon points="1398.7,744.5 1427.0,743.1 1428.4,753.0 1408.6,758.7" fill="#3a3a3a" />
<polygon points="1169.4,847.2 1208.1,828.7 1214.3,816.3 1398.2,816.3 1407.4,856.5 1416.7,946.8 1191.1,946.8" fill="url(#g3back)"/>
<path d="M1293.1,946.8 L1409.0,912.2" stroke="#f0f0f0" stroke-width="1.6" fill="none"/>
<path d="M1286.9,946.8 L1409.0,909.1" stroke="#bdbdbd" stroke-width="0.7" fill="none"/>
<path d="M1311.6,946.8 L1410.5,919.9" stroke="#efefef" stroke-width="2.2" fill="none"/>
<path d="M1208.0,772.9 C1208.9,764.3 1215.7,755.7 1224.3,752.3 L1317.0,733.4 C1325.6,731.7 1332.5,731.7 1335.9,733.4 C1342.8,736.9 1346.2,741.2 1349.6,745.4 L1371.9,776.3 C1380.5,790.1 1384.8,798.7 1387.4,807.2 C1390.8,819.3 1393.1,827.8 1393.4,836.4 L1393.4,853.6 C1391.7,863.9 1385.7,869.9 1378.8,872.5 L1241.5,913.7 C1234.6,914.5 1228.6,911.9 1224.3,908.5 C1218.3,903.4 1215.7,899.1 1214.0,894.8 C1210.6,881.0 1209.2,865.6 1208.9,850.2 Z" fill="url(#g3hrtop)"/>
<path d="M1232.9,805.5 L1361.6,783.2 L1375.4,805.5 L1361.6,801.2 L1241.5,827.0 L1232.9,833.0 Z" fill="#e6e6e6"/>
<path d="M1232.9,814.1 L1361.6,789.2 L1375.4,805.5 L1361.6,801.2 L1241.5,827.0 L1232.9,833.0 Z" fill="#f2f2f2"/>
<path d="M1349.6,745.4 L1371.9,776.3 C1380.5,790.1 1384.8,798.7 1387.4,807.2 C1390.8,819.3 1393.1,827.8 1393.4,836.4 L1393.4,853.6 C1392.2,862.2 1389.1,867.3 1385.7,869.4 L1383.1,839.9 L1376.2,805.5 L1363.4,781.5 L1344.5,750.6 Z" fill="#9e9e9e"/>
<path d="M1232.9,833.0 C1233.8,829.6 1237.2,827.5 1241.5,827.0 L1361.6,801.2 C1368.5,800.4 1372.8,802.1 1375.4,805.5 C1382.2,815.8 1385.7,821.0 1387.4,826.1 C1390.8,834.7 1392.9,843.3 1393.4,850.2 C1392.5,862.2 1385.7,869.9 1378.8,872.5 L1241.5,913.7 C1238.1,910.2 1235.5,905.9 1234.6,901.6 L1232.1,867.3 Z" fill="url(#g3hr)"/>
<path d="M1208.0,772.9 L1232.9,802.1 L1232.9,833.0 L1232.1,867.3 L1234.6,901.6 L1241.5,913.7 C1234.6,914.5 1228.6,911.9 1224.3,908.5 C1218.3,903.4 1215.7,899.1 1214.0,894.8 C1210.6,881.0 1209.2,865.6 1208.9,850.2 Z" fill="#ececec"/>
<path d="M1232.9,802.1 L1232.9,833.0 L1232.1,867.3 L1234.6,901.6 L1241.5,913.7" fill="none" stroke="#f8f8f8" stroke-width="2"/>
<polygon points="1137.0,773.1 1212.7,757.6 1209.6,828.7 1169.4,847.2 1154.0,878.2 1137.0,909.1" fill="#f6f6f6" />
<polygon points="1137.0,782.0 1207.8,782.0 1207.8,841.5 1172.4,850.0 1162.5,855.7 1137.0,810.3" fill="#f7f7f7" />
<polygon points="1150.9,878.2 1169.4,844.2 1191.1,946.8 1150.9,946.8" fill="url(#g3sh)"/>
<polygon points="1137.0,909.1 1154.0,872.0 1150.9,946.8 1137.0,946.8" fill="#f4f4f4" />
<path d="M1398.6,791.3 C1405.7,781.3 1417.1,776.4 1454.3,771.3 C1465.7,772.7 1471.4,781.3 1472.9,791.3 L1483.4,845.6 L1495.7,954.1 L1417.1,954.1 L1408.6,845.6 Z" fill="url(#g3bol)"/>
<polygon points="1471.4,784.1 1483.4,794.1 1489.1,851.3 1500.6,954.1 1495.1,954.1 1483.4,845.6 1472.9,791.3" fill="#d2d2d2" />
<polygon points="1483.4,794.1 1498.6,817.0 1527.1,823.3 1527.1,892.7 1514.3,888.4 1495.7,862.7 1489.1,851.3" fill="#f0f0f0" />
<polygon points="1495.7,862.7 1514.3,888.4 1527.1,892.7 1534.3,954.1 1500.6,954.1" fill="#e9e9e9" />
<polygon points="1498.6,817.0 1527.1,823.3 1527.1,827.0 1498.6,820.7" fill="#fbfbfb" />
<polygon points="1384.5,782.0 1407.9,782.0 1408.6,824.5 1412.8,895.3 1413.5,905.2 1395.8,861.3 1390.2,817.4" fill="#d9d9d9" />
<path d="M1411.4,756.5 L1453.2,767.2 L1451.8,772.4 L1408.6,761.1 Z" fill="#262626" stroke="#fff" stroke-width="1.6" stroke-linejoin="round" paint-order="stroke"/>
<path d="M1396.3,753.7 C1398.0,743.1 1412.8,737.7 1432.7,737.4 C1441.2,737.4 1449.7,740.2 1455.3,743.4 L1465.5,741.7 L1453.2,767.4 L1411.4,756.8 L1427.3,751.6 C1425.6,746.6 1419.2,744.5 1412.8,744.5 C1405.7,744.5 1400.1,748.7 1398.9,757.2 Z" fill="#595959" stroke="#fff" stroke-width="1.6" stroke-linejoin="round" paint-order="stroke"/>
</svg>
<div class="t hd" id="l0" style="left:125px;top:43.52px;transform:scaleX(1.0810);">Présentation du véhicule</div>
<div class="t pn" id="l1" style="left:56px;top:1117.02px;transform:scaleX(1.1090);">26</div>
<div class="t b" id="l2" style="left:129.2px;top:552.14px;transform:scaleX(1.0957);">L'accoudoir peut être relevé.</div>
<div class="t b" id="l3" style="left:128.8px;top:914.94px;transform:scaleX(1.0784);">Pour retirer l'accoudoir, le relever, le pousser et</div>
<div class="t b" id="l4" style="left:128.8px;top:939.94px;transform:scaleX(1.0989);">le tourner vers la position illustrée.</div>
<div class="t b" id="l5" style="left:128.8px;top:964.94px;transform:scaleX(1.0817);">Ensuite, extraire l'accoudoir du dossier.</div>
<div class="t b" id="l6" style="left:128.8px;top:989.94px;transform:scaleX(1.0709);">Pour fixer l'accoudoir, l'engager dans le dossier.</div>
<div class="t b" id="l7" style="left:128.8px;top:1014.94px;transform:scaleX(1.0987);">Pousser et replier l'accoudoir en position</div>
<div class="t b" id="l8" style="left:128.8px;top:1039.94px;transform:scaleX(1.1014);">verticale. Tirer légèrement l'accoudoir vers</div>
<div class="t b" id="l9" style="left:128.8px;top:1064.94px;transform:scaleX(1.0896);">l'extérieur et le rabattre vers le bas.</div>
<div class="t h2" id="l10" style="left:615.3px;top:150.92px;transform:scaleX(1.1048);">Sièges de deuxième rangée</div>
<div class="t b" id="l11" style="left:615.3px;top:183.24px;transform:scaleX(1.0820);">Selon l'équipement, le dossier du siège arrière</div>
<div class="t b" id="l12" style="left:615.3px;top:208.24px;transform:scaleX(1.0899);">est divisé en deux ou trois parties.</div>
<div class="t b" id="l13" style="left:615.3px;top:233.24px;transform:scaleX(1.1034);">Toutes les parties peuvent être rabattues.</div>
<div class="t b" id="l14" style="left:615.3px;top:258.24px;transform:scaleX(1.0928);">Avant de rabattre le dossier de siège</div>
<div class="t b" id="l15" style="left:615.3px;top:283.24px;transform:scaleX(1.0866);">arrière, effectuer les opérations suivantes si</div>
<div class="t b" id="l16" style="left:615.3px;top:308.24px;transform:scaleX(1.0395);">nécessaire :</div>
<div class="t b" id="l17" style="left:647px;top:346.54px;transform:scaleX(1.0622);">Avancer les sièges avant.</div>
<div class="t b" id="l18" style="left:647px;top:377.44px;transform:scaleX(1.0542);">Enlever le cache-bagages.</div>
<div class="t h2" id="l19" style="left:615.3px;top:415.02px;transform:scaleX(1.1070);">Sièges de troisième rangée</div>
<div class="t av" id="l20" style="left:684.8px;top:468.14px;transform:scaleX(1.0903);">Avertissement</div>
<div class="t b" id="l21" style="left:684.8px;top:493.24px;transform:scaleX(1.0640);">Lorsque les sièges arrière ou les</div>
<div class="t b" id="l22" style="left:628.5px;top:518.24px;transform:scaleX(1.0853);">dossiers sont en cours de réglage ou de</div>
<div class="t b" id="l23" style="left:628.5px;top:543.24px;transform:scaleX(1.0894);">rabattement, garder les mains et les pieds à</div>
<div class="t b" id="l24" style="left:628.5px;top:568.24px;transform:scaleX(1.0967);">l'écart du mouvement des sièges.</div>
<div class="t b" id="l25" style="left:628.5px;top:593.24px;transform:scaleX(1.0754);">Ne jamais régler les sièges en roulant.</div>
<div class="t b" id="l26" style="left:628.5px;top:618.24px;transform:scaleX(1.0908);">Ils pourraient se déplacer de manière</div>
<div class="t b" id="l27" style="left:628.5px;top:643.24px;transform:scaleX(1.1347);">incontrôlée.</div>
<div class="t b" id="l28" style="left:628.5px;top:668.24px;transform:scaleX(1.1007);">Conduire uniquement le véhicule si les</div>
<div class="t b" id="l29" style="left:628.5px;top:693.24px;transform:scaleX(1.0997);">sièges et les dossiers sont correctement</div>
<div class="t b" id="l30" style="left:628.5px;top:718.24px;transform:scaleX(1.1093);">encliquetés.</div>
<div class="t av" id="l31" style="left:684.8px;top:783.24px;transform:scaleX(1.0903);">Avertissement</div>
<div class="t b" id="l32" style="left:684.8px;top:808.34px;transform:scaleX(1.0844);">Lors de l'installation des sièges</div>
<div class="t b" id="l33" style="left:628.5px;top:833.34px;transform:scaleX(1.0831);">arrière, vérifier que l'ensemble du siège est</div>
<div class="t b" id="l34" style="left:628.5px;top:858.34px;transform:scaleX(1.1016);">correctement placé sur les points d'ancrage,</div>
<div class="t b" id="l35" style="left:628.5px;top:883.34px;transform:scaleX(1.1162);">que les verrous sont complètement</div>
<div class="t b" id="l36" style="left:628.5px;top:908.34px;transform:scaleX(1.0929);">enclenchés et que le dossier est replacé</div>
<div class="t b" id="l37" style="left:628.5px;top:933.34px;transform:scaleX(1.0925);">dans la bonne position.</div>
<div class="t b" id="l38" style="left:628.5px;top:958.34px;transform:scaleX(1.1312);">Ne pas effectuer cette vérification peut</div>
<div class="t b" id="l39" style="left:628.5px;top:983.34px;transform:scaleX(1.0646);">causer des blessures en cas de freinage</div>
<div class="t b" id="l40" style="left:628.5px;top:1008.34px;transform:scaleX(1.0898);">brusque ou de collision.</div>
<div class="t av" id="l41" style="left:1170.8px;top:113.04px;transform:scaleX(1.0980);">Avertissement</div>
<div class="t b" id="l42" style="left:1170.8px;top:137.94px;transform:scaleX(1.0914);">Veiller à toujours bien fixer la charge</div>
<div class="t b" id="l43" style="left:1114.7px;top:162.94px;transform:scaleX(1.0712);">dans le véhicule. Dans le cas contraire,</div>
<div class="t b" id="l44" style="left:1114.7px;top:187.94px;transform:scaleX(1.1010);">les objets risquent d'être projetés dans le</div>
<div class="t b" id="l45" style="left:1114.7px;top:212.94px;transform:scaleX(1.0932);">véhicule et de blesser des occupants ou</div>
<div class="t b" id="l46" style="left:1114.7px;top:237.94px;transform:scaleX(1.0924);">d'endommager la charge ou le véhicule.</div>
<div class="t b" id="l47" style="left:1101.2px;top:289.44px;transform:scaleX(1.0883);">Selon la version, le coffre peut être agrandi en</div>
<div class="t b" id="l48" style="left:1101.2px;top:314.44px;transform:scaleX(1.1030);">levant ou en retirant le siège de la troisième</div>
<div class="t b" id="l49" style="left:1101.2px;top:339.44px;transform:scaleX(1.0609);">rangée.</div>
<div class="t h2" id="l50" style="left:1101.3px;top:473.52px;transform:scaleX(1.1063);">Sièges de deuxième rangée</div>
<div class="t b" id="l51" style="left:1132.7px;top:512.54px;transform:scaleX(1.0846);">Abaisser l'appuie-tête</div>
<div class="t b" id="l52" style="left:1132.7px;top:544.94px;transform:scaleX(1.0932);">Vérifier que les ceintures de sécurité</div>
<div class="t b" id="l53" style="left:1132.7px;top:569.94px;transform:scaleX(1.1050);">extérieures reposent correctement sur les</div>
<div class="t b" id="l54" style="left:1132.7px;top:594.94px;transform:scaleX(1.0373);">dossiers.</div>
<div class="t b" id="l55" style="left:1132.7px;top:964.34px;transform:scaleX(1.0997);">Tirer la manette de déverrouillage d'un ou</div>
<div class="t b" id="l56" style="left:1132.7px;top:989.34px;transform:scaleX(1.0939);">des deux côtés extérieurs, et rabattre les</div>
<div class="t b" id="l57" style="left:1132.7px;top:1014.24px;transform:scaleX(1.0313);">dossiers sur l'assise.</div>
<div class="t h1" id="h0" style="left:128.9px;top:99.96px;line-height:31px;transform:scaleX(1.0820);"><b>A</b>CCOUDOIR AVANT</div>
<div class="t h1" id="h1" style="left:615.2px;top:100.26px;line-height:31px;transform:scaleX(1.0339);"><b>P</b>OSITION DES SIÈGES ARRIÈRE</div>
<div class="t h1" id="h2" style="left:1101.5px;top:381.66px;line-height:31px;transform:scaleX(1.0365);"><b>R</b>ABATTEMENT DES SIÈGES</div>
<div class="t h1" id="h3" style="left:1101.5px;top:425.16px;line-height:31px;transform:scaleX(0.9994);">ARRIÈRE</div>
</body></html>
